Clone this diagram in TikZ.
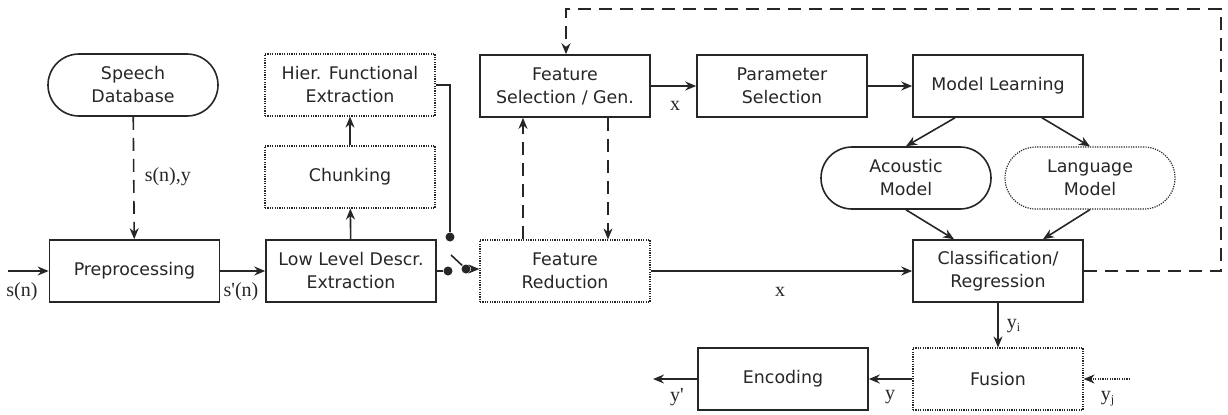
\documentclass[tikz,border=0pt]{standalone}
\usepackage{fontspec}
\setmainfont{DejaVu Sans}
\newfontfamily\lblfont{Liberation Serif}
\usetikzlibrary{arrows.meta,calc}
\begin{document}
\begin{tikzpicture}[x=0.5pt,y=-0.5pt,
  line width=0.8pt, draw=black!85,
  >={Stealth[length=5.5pt,width=4.5pt]},
  box/.style={draw, minimum width=85pt, minimum height=31pt, inner sep=1pt, align=center,
    font=\fontsize{8.7}{11.5}\selectfont, text=black!85},
  dbox/.style={box, line width=0.6pt, dash pattern=on 0.6pt off 0.6pt},
  stad/.style={box, rounded corners=15.5pt},
  dstad/.style={dbox, rounded corners=15.5pt},
  lbl/.style={font=\lblfont\fontsize{10}{12}\selectfont, text=black!85, inner sep=1pt},
  dsh/.style={dash pattern=on 6.5pt off 4pt},
  dot/.style={circle, fill=black!85, inner sep=0pt, minimum size=4.5pt}
]
\useasboundingbox (0,0) rectangle (1228,414);
% nodes
\node[stad] (sd) at (133,85) {Speech\\Database};
\node[box] (pre) at (134.5,271) {Preprocessing};
\node[box] (lld) at (351,271) {Low Level Descr.\\Extraction};
\node[dbox] (chunk) at (350,177) {Chunking};
\node[dbox] (hier) at (350,85) {Hier. Functional\\Extraction};
\node[dbox] (fr) at (565,271) {Feature\\Reduction};
\node[box] (fs) at (565,86) {Feature\\Selection / Gen.};
\node[box] (ps) at (782,86) {Parameter\\Selection};
\node[box] (ml) at (998,86) {Model Learning};
\node[stad] (am) at (906,178) {Acoustic\\Model};
\node[dstad] (lm) at (1090,178) {Language\\Model};
\node[box] (cr) at (998,271) {Classification/\\Regression};
\node[dbox] (fu) at (998,379) {Fusion};
\node[box] (enc) at (783,379) {Encoding};
% coordinates
\coordinate (in) at (8,271);
\coordinate (out) at (653,379);
\coordinate (yj) at (1130,379);
\coordinate (hcorner) at (450,85);
\node[dot] (d1) at (450,237) {};
\node[dot] (d2) at (448,271) {};
\node[dot] (d3) at (466,269) {};
\coordinate (lever) at (451,255);
\coordinate (fb1) at (1221,271);
\coordinate (fb2) at (1221,9);
\coordinate (fb3) at (566,9);
% labels
\node[lbl] (ls) at (22,292) {s(n)};
\node[lbl] (lsp) at (241,292) {s'(n)};
\node[lbl, anchor=west] (lsy) at (142,177) {s(n),y};
\node[lbl] (lx1) at (675,106) {x};
\node[lbl] (lx2) at (780,292) {x};
\node[lbl] (lyi) at (1014,326) {y\textsubscript{\fontsize{6}{7}\selectfont i}};
\node[lbl] (ly) at (890,397) {y};
\node[lbl] (lyp) at (677,397) {y'};
\node[lbl] (lyj) at (1108,399) {y\textsubscript{\fontsize{6}{7}\selectfont j}};
% connectors
\draw[->] (in) -- (pre);
\draw[->] (pre) -- (lld);
\draw[->,dsh] (sd) -- (pre);
\draw[->] (lld) -- (chunk);
\draw[->] (chunk) -- (hier);
\draw (hier.east) -- (hcorner) -- (d1);
\draw (lld.east) -- (d2);
\draw (lever) -- (d3);
\draw[->] (d3) -- (fr.west |- d3);
\draw[->,dsh] ([xshift=-21pt]fr.north) -- ([xshift=-21pt]fs.south);
\draw[->,dsh] ([xshift=21.5pt]fs.south) -- ([xshift=21.5pt]fr.north);
\draw[->] (fs) -- (ps);
\draw[->] (ps) -- (ml);
\draw[->] ([xshift=-21.5pt]ml.south) -- (am.north);
\draw[->] ([xshift=22pt]ml.south) -- (lm.north);
\draw[->] (am.south) -- ([xshift=-22pt]cr.north);
\draw[->] (lm.south) -- ([xshift=22.5pt]cr.north);
\draw[->] (fr) -- (cr);
\draw[->,dsh] (cr.east) -- (fb1) -- (fb2) -- (fb3) -- (fs.north -| fb3);
\draw[->] (cr) -- (fu);
\draw[->] (fu) -- (enc);
\draw[->] (enc) -- (out);
\draw[->, line width=0.6pt, dash pattern=on 0.6pt off 0.6pt] (yj) -- (fu);
\end{tikzpicture}
\end{document}
